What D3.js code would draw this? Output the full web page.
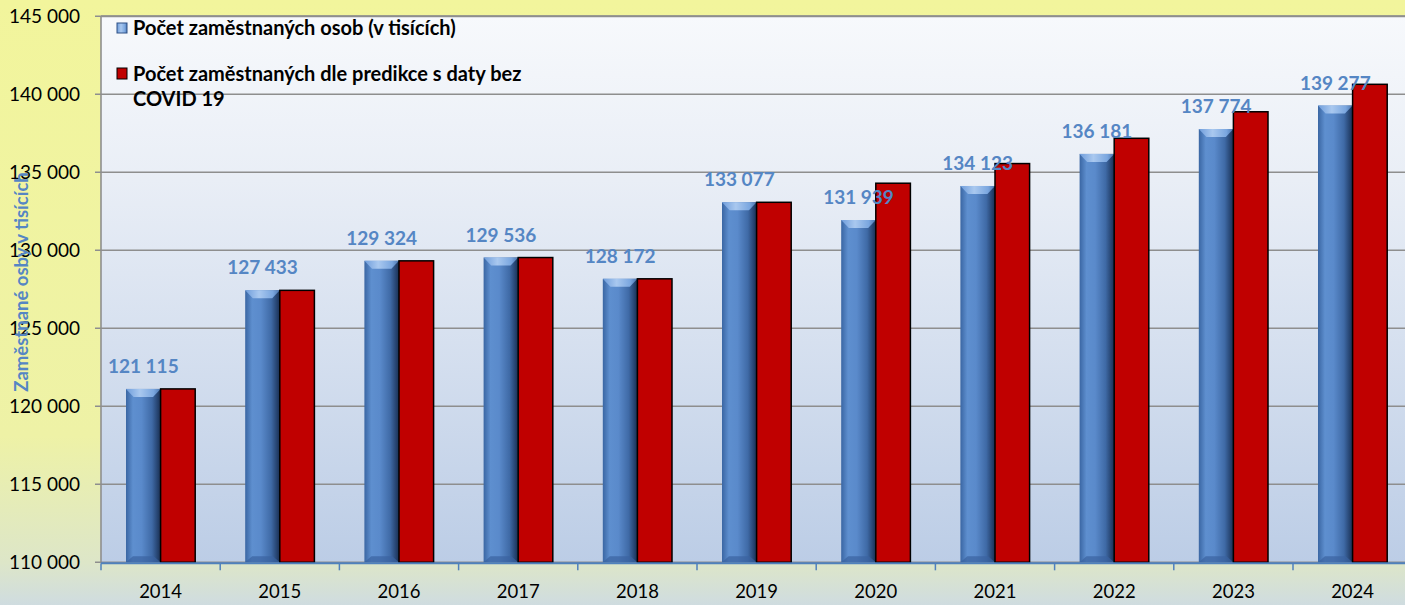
<!DOCTYPE html>
<html><head><meta charset="utf-8">
<script src="https://cdn.jsdelivr.net/npm/d3@7"></script>
<style>html,body{margin:0;padding:0;overflow:hidden;background:#fff}</style>
</head><body>
<script>
const years = ["2014","2015","2016","2017","2018","2019","2020","2021","2022","2023","2024"];
const actual = [121115,127433,129324,129536,128172,133077,131939,134123,136181,137774,139277];
const predicted = [121115,127433,129324,129536,128172,133077,134300,135560,137180,138880,140640];
const seriesNames = ["Počet zaměstnaných osob (v tisících)","Počet zaměstnaných dle predikce s daty bez COVID 19"];
const yTicks = [110000,115000,120000,125000,130000,135000,140000,145000];
const yTitle = "Zaměstnané osby v tisících";

(function(){
const W=1405,H=605;
const svg=d3.select("body").append("svg").attr("width",W).attr("height",H);
const defs=svg.append("defs");
const bg=defs.append("linearGradient").attr("id","bg").attr("x1",0).attr("y1",0).attr("x2",0).attr("y2",1);
[[0,"#f2f59c"],[0.72,"#eef2a6"],[0.93,"#dde6c8"],[1,"#cfdce0"]].forEach(s=>bg.append("stop").attr("offset",s[0]).attr("stop-color",s[1]));
const pg=defs.append("linearGradient").attr("id","pg").attr("x1",0).attr("y1",0).attr("x2",0).attr("y2",1);
[[0,"#f7f9fc"],[0.3,"#e9eef6"],[1,"#bccde6"]].forEach(s=>pg.append("stop").attr("offset",s[0]).attr("stop-color",s[1]));
const bb=defs.append("linearGradient").attr("id","bb").attr("x1",0).attr("y1",0).attr("x2",1).attr("y2",0);
[[0,"#3a66a3"],[0.2,"#5e8fcf"],[0.45,"#5a8acb"],[0.75,"#3f6aa6"],[0.92,"#25426e"],[1,"#1a2f52"]].forEach(s=>bb.append("stop").attr("offset",s[0]).attr("stop-color",s[1]));
const bt=defs.append("linearGradient").attr("id","bt").attr("x1",0).attr("y1",0).attr("x2",1).attr("y2",0);
[[0,"#6f9ddb"],[0.4,"#a9c8ef"],[0.8,"#7aa6df"],[1,"#4a74ad"]].forEach(s=>bt.append("stop").attr("offset",s[0]).attr("stop-color",s[1]));

svg.append("rect").attr("width",W).attr("height",H).attr("fill","url(#bg)");

const left=101, pTop=16.3, bottom=562.3;
const y=d3.scaleLinear().domain([110000,145000]).range([bottom,pTop]);
const x0=d3.scaleBand().domain(years).range([left,left+11*119.2]).padding(0);
const x1=d3.scaleBand().domain([0,1]).range([25,x0.bandwidth()-25]).padding(0);

svg.append("rect").attr("x",left).attr("y",pTop).attr("width",W-left).attr("height",bottom-pTop).attr("fill","url(#pg)");

svg.append("g").selectAll("line").data(yTicks).join("line")
  .attr("x1",left-6).attr("x2",W).attr("y1",d=>y(d)).attr("y2",d=>y(d))
  .attr("stroke","#8e8e8e").attr("stroke-width",1.6);
svg.append("line").attr("x1",left).attr("x2",left).attr("y1",pTop).attr("y2",bottom).attr("stroke","#8e8e8e").attr("stroke-width",1.6);

svg.append("g").selectAll("text").data(yTicks).join("text")
  .attr("x",80).attr("y",d=>y(d)).attr("dy","0.36em").attr("text-anchor","end")
  .attr("font-family","Lato").attr("font-size",19).attr("fill","#000")
  .text(d=>d3.format(",")(d).replace(/,/g," "));

svg.append("text").attr("transform",`translate(28,282) rotate(-90)`)
  .attr("text-anchor","middle").attr("font-family","Lato").attr("font-weight","bold")
  .attr("font-size",18.5).attr("fill","#5586c4").text(yTitle);

const g=svg.append("g");
years.forEach((yr,i)=>{
  const gx=x0(yr);
  const bx=gx+x1(0), bw=x1.bandwidth();
  const by=y(actual[i]);
  g.append("rect").attr("x",bx).attr("y",by).attr("width",bw).attr("height",bottom-by).attr("fill","url(#bb)");
  g.append("path").attr("d",`M${bx},${by}L${bx+bw},${by}L${bx+bw*0.78},${by+8}L${bx+bw*0.22},${by+8}Z`).attr("fill","url(#bt)");
  g.append("path").attr("d",`M${bx},${bottom}L${bx+bw},${bottom}L${bx+bw*0.8},${bottom-6}L${bx+bw*0.2},${bottom-6}Z`).attr("fill","#3a62a0").attr("opacity",0.7);
  const rx=gx+x1(1), ry=y(predicted[i]);
  g.append("rect").attr("x",rx).attr("y",ry).attr("width",bw).attr("height",bottom-ry)
    .attr("fill","#c00000").attr("stroke","#000").attr("stroke-width",1.5);
});
svg.append("g").selectAll("text").data(years).join("text")
  .attr("x",d=>x0(d)+x1(0)+x1.bandwidth()/2).attr("y",(d,i)=>y(actual[i])-16)
  .attr("text-anchor","middle").attr("font-family","Lato").attr("font-weight","bold")
  .attr("font-size",19).attr("fill","#5586c4")
  .text((d,i)=>d3.format(",")(actual[i]).replace(/,/g," "));

svg.append("line").attr("x1",left).attr("x2",W).attr("y1",bottom+1).attr("y2",bottom+1).attr("stroke","#4f81bd").attr("stroke-width",2);
svg.append("g").selectAll("line").data(years).join("line")
  .attr("x1",d=>x0(d)).attr("x2",d=>x0(d)).attr("y1",bottom+1).attr("y2",bottom+8)
  .attr("stroke","#4f81bd").attr("stroke-width",1.5);
svg.append("g").selectAll("text").data(years).join("text")
  .attr("x",d=>x0(d)+x0.bandwidth()/2).attr("y",598).attr("text-anchor","middle")
  .attr("font-family","Lato").attr("font-size",18.5).attr("fill","#000").text(d=>d);

svg.append("line").attr("x1",left).attr("x2",W).attr("y1",pTop).attr("y2",pTop).attr("stroke","#8e8e8e").attr("stroke-width",2);

const lg=svg.append("g").attr("font-family","Lato").attr("font-weight","bold").attr("font-size",20);
lg.append("rect").attr("x",117).attr("y",23).attr("width",10).attr("height",10).attr("fill","url(#bt)").attr("stroke","#2e5186").attr("stroke-width",1);
lg.append("text").attr("x",133).attr("y",35).text(seriesNames[0]);
lg.append("rect").attr("x",117).attr("y",68).attr("width",10).attr("height",11).attr("fill","#c00000").attr("stroke","#000").attr("stroke-width",1);
lg.append("text").attr("x",133).attr("y",81).text("Počet zaměstnaných dle predikce s daty bez");
lg.append("text").attr("x",133).attr("y",106).text("COVID 19");
})();
</script>
</body></html>
